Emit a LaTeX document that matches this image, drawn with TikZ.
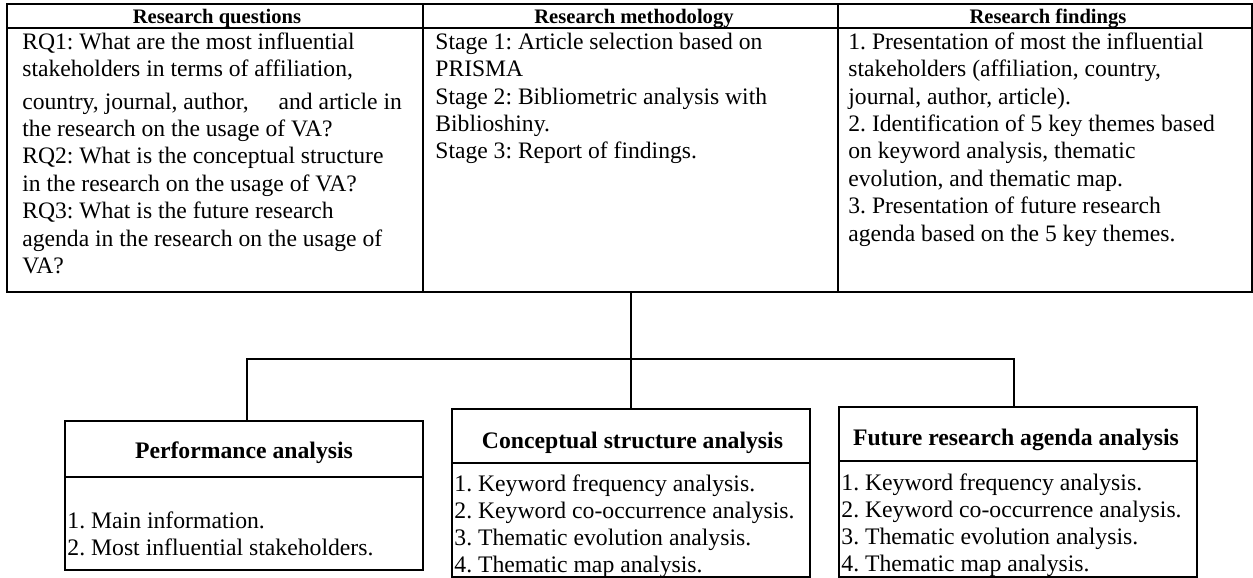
\documentclass[tikz,border=0pt]{standalone}
\usepackage{fontspec}
\setmainfont{Liberation Serif}
\frenchspacing
\begin{document}
\begin{tikzpicture}[x=0.5pt,y=-0.5pt,
  cell/.style={draw,line width=1pt,inner sep=0pt,outer sep=0pt,minimum width=#1},
  headtxt/.style={font=\bfseries\fontsize{10.3pt}{12pt}\selectfont,anchor=base,inner sep=0pt},
  bodytxt/.style={font=\frenchspacing\fontsize{11.8pt}{13.7pt}\selectfont,align=left,anchor=north west,inner sep=0pt},
  boxtitle/.style={font=\bfseries\fontsize{11.85pt}{13.5pt}\selectfont,anchor=base,inner sep=0pt},
  itemtxt/.style={font=\frenchspacing\fontsize{11.85pt}{13.5pt}\selectfont,align=left,anchor=north west,inner sep=0pt},
  conn/.style={draw,line width=1pt,line cap=rect}]
\useasboundingbox (0,0) rectangle (1253,578);
% table cells
\node[cell=208pt,minimum height=12pt] (h1) at (215,16) {};
\node[cell=207.5pt,minimum height=12pt] (h2) at (630.5,16) {};
\node[cell=206.75pt,minimum height=12pt] (h3) at (1044.75,16) {};
\node[cell=208pt,minimum height=132pt] (b1) at (215,160) {};
\node[cell=207.5pt,minimum height=132pt] (b2) at (630.5,160) {};
\node[cell=206.75pt,minimum height=132pt] (b3) at (1044.75,160) {};
% header texts
\node[headtxt] (ht1) at (217,23.5) {Research questions};
\node[headtxt] (ht2) at (634,23.5) {Research methodology};
\node[headtxt] (ht3) at (1048,23.5) {Research findings};
% body texts
\node[bodytxt] (bt1) at (22,29.8) {\strut RQ1: What are the most influential\\
stakeholders in terms of affiliation,\\[2.5pt]
country, journal, author,\hspace{15pt}and article in\\
the research on the usage of VA?\\
RQ2: What is the conceptual structure\\
in the research on the usage of VA?\\
RQ3: What is the future research\\
agenda in the research on the usage of\\
VA?};
\node[bodytxt] (bt2) at (435,29.8) {\strut Stage 1: Article selection based on\\
PRISMA\\
Stage 2: Bibliometric analysis with\\
Biblioshiny.\\
Stage 3: Report of findings.};
\node[bodytxt] (bt3) at (848,29.8) {\strut 1. Presentation of most the influential\\
stakeholders (affiliation, country,\\
journal, author, article).\\
2. Identification of 5 key themes based\\
on keyword analysis, thematic\\
evolution, and thematic map.\\
3. Presentation of future research\\
agenda based on the 5 key themes.};
% lower boxes
\node[cell=179pt,minimum height=28pt] (p1h) at (244,449) {};
\node[cell=179pt,minimum height=46.5pt] (p1b) at (244,523.5) {};
\node[cell=179pt,minimum height=27pt] (p2h) at (631,436) {};
\node[cell=179pt,minimum height=57pt] (p2b) at (631,520) {};
\node[cell=179pt,minimum height=27pt] (p3h) at (1018,434) {};
\node[cell=179pt,minimum height=58pt] (p3b) at (1018,519) {};
\node[boxtitle] (t1) at (244,458) {Performance analysis};
\node[boxtitle] (t2) at (632.5,448) {Conceptual structure analysis};
\node[boxtitle] (t3) at (1016,445) {Future research agenda analysis};
\node[itemtxt] (i1) at (67,509.1) {\strut 1. Main information.\\
2. Most influential stakeholders.};
\node[itemtxt] (i2) at (454,472.1) {\strut 1. Keyword frequency analysis.\\
2. Keyword co-occurrence analysis.\\
3. Thematic evolution analysis.\\
4. Thematic map analysis.};
\node[itemtxt] (i3) at (841,471.1) {\strut 1. Keyword frequency analysis.\\
2. Keyword co-occurrence analysis.\\
3. Thematic evolution analysis.\\
4. Thematic map analysis.};
% connectors
\coordinate (split) at (630.5,359);
\draw[conn] (b2.south) -- (split) -- (split |- p2h.north);
\draw[conn] (split) -| ([xshift=1.5pt]p1h.north);
\draw[conn] (split) -| ([xshift=-2pt]p3h.north);
\end{tikzpicture}
\end{document}
